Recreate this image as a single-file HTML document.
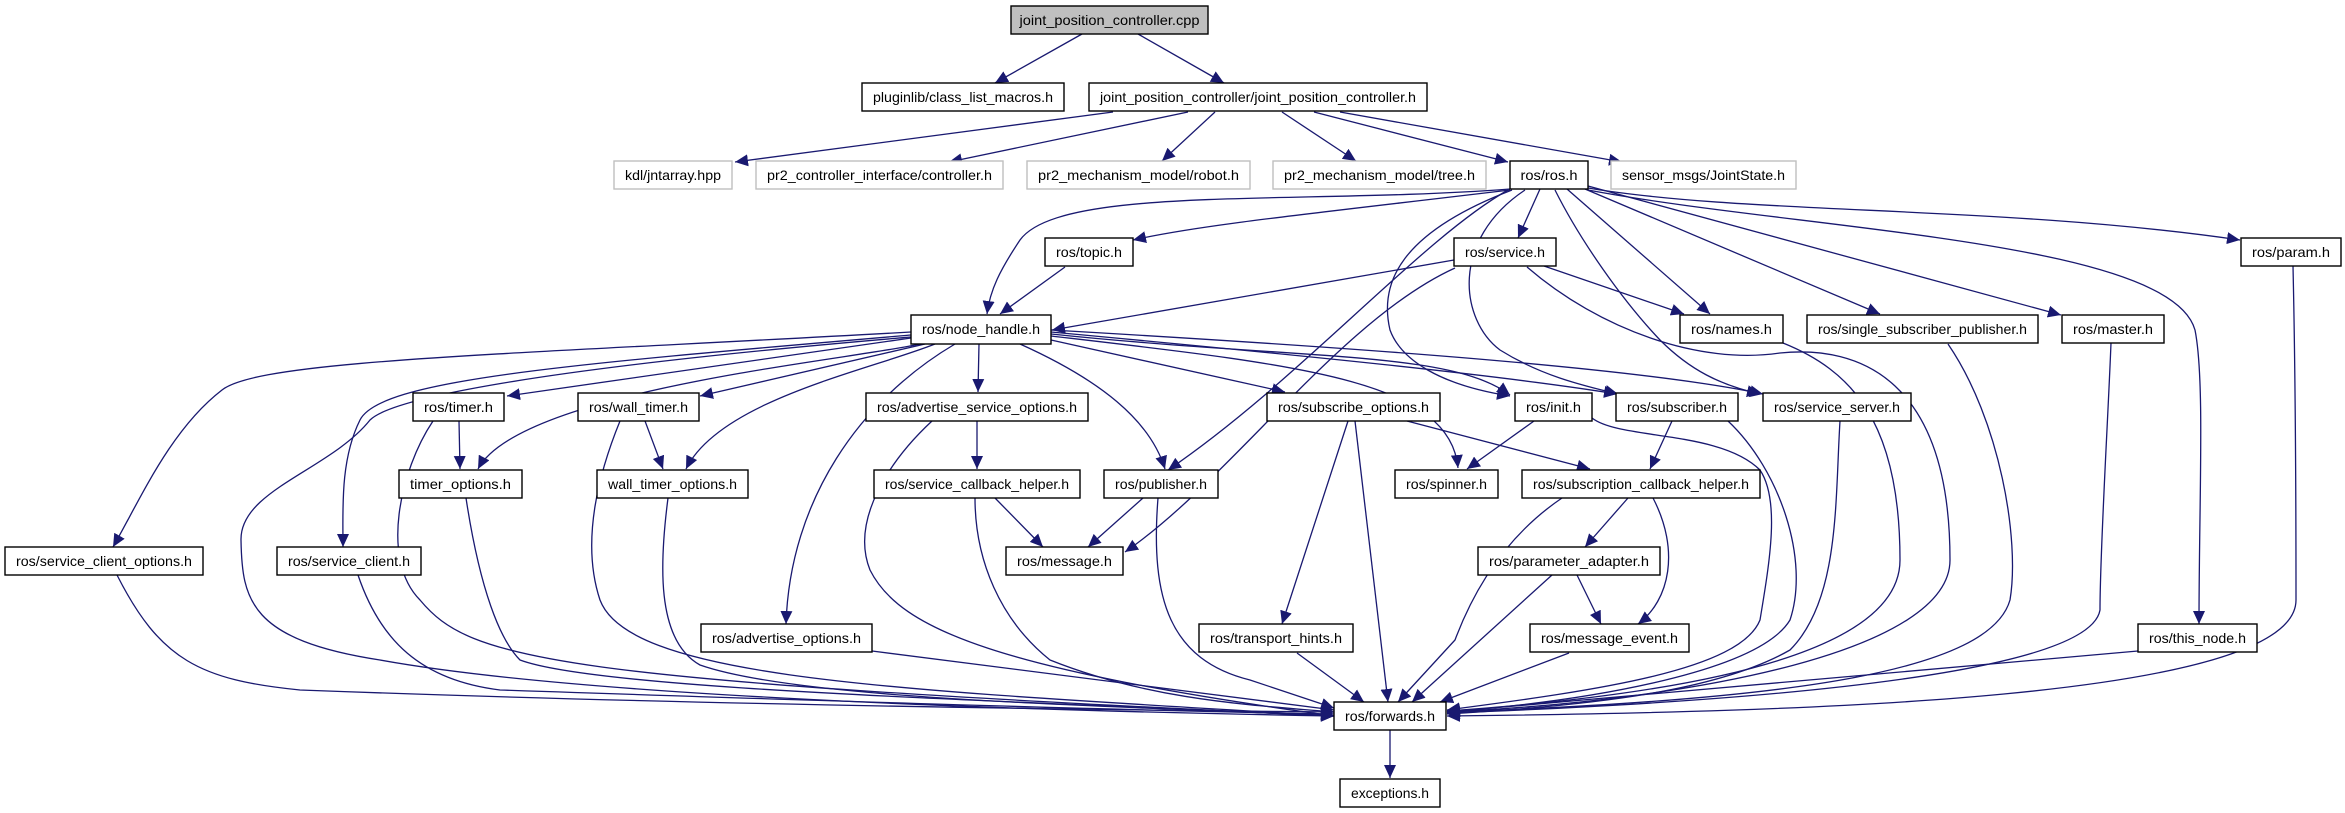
<!DOCTYPE html>
<html><head><meta charset="utf-8"><style>
html,body{margin:0;padding:0;background:#fff;}
svg{display:block;}
text{font-family:"Liberation Sans",sans-serif;font-size:14px;fill:#000;}
.e{fill:none;stroke:#191970;stroke-width:1.3;marker-end:url(#a);}
.b{fill:#fff;stroke:#000;stroke-width:1.4;}
.g{fill:#fff;stroke:#bfbfbf;stroke-width:1.4;}
</style></head><body>
<svg width="2345" height="813" viewBox="0 0 2345 813" xmlns="http://www.w3.org/2000/svg">
<defs><marker id="a" markerUnits="userSpaceOnUse" markerWidth="14" markerHeight="12" refX="13" refY="6" orient="auto"><path d="M0,0 L13,6 L0,12 z" fill="#191970"/></marker></defs>
<g>
<path class="e" d="M1082,34 L995,83"/>
<path class="e" d="M1138,34 L1224,83"/>
<path class="e" d="M1113,112 L735,162"/>
<path class="e" d="M1188,112 L949,162"/>
<path class="e" d="M1215,112 L1162,161"/>
<path class="e" d="M1282,112 L1356,161"/>
<path class="e" d="M1314,112 L1508,162"/>
<path class="e" d="M1340,112 L1622,162"/>
<path class="e" d="M1510,189 C1300,205 1060,185 1020,240 C1000,270 990,290 987,314"/>
<path class="e" d="M1510,190 C1300,215 1200,225 1133,240"/>
<path class="e" d="M1540,189 L1518,238"/>
<path class="e" d="M1567,189 L1710,314"/>
<path class="e" d="M1585,189 L1880,314"/>
<path class="e" d="M1588,186 L2061,315"/>
<path class="e" d="M1588,188 C1750,215 2000,205 2240,240"/>
<path class="e" d="M1588,190 C1800,230 2170,240 2195,330 C2205,380 2199,500 2199,624"/>
<path class="e" d="M1508,190 C1420,240 1300,380 1168,470"/>
<path class="e" d="M1512,190 C1400,233 1379,283 1390,330 C1401,360 1440,385 1510,396"/>
<path class="e" d="M1525,190 C1450,240 1460,320 1500,350 C1540,375 1580,385 1618,394"/>
<path class="e" d="M1555,190 C1580,240 1622,300 1660,340 C1690,370 1720,385 1760,394"/>
<path class="e" d="M1454,260 L1052,330"/>
<path class="e" d="M1544,266 L1684,314"/>
<path class="e" d="M1455,268 C1340,320 1230,480 1125,552"/>
<path class="e" d="M1527,267 C1600,330 1700,365 1780,353 C1860,345 1950,380 1950,560 C1950,650 1700,700 1447,712"/>
<path class="e" d="M1065,267 L1000,314"/>
<path class="e" d="M911,338 L507,396"/>
<path class="e" d="M925,344 L700,396"/>
<path class="e" d="M979,344 L978,392"/>
<path class="e" d="M1020,344 C1100,380 1150,420 1165,469"/>
<path class="e" d="M1051,340 L1285,392"/>
<path class="e" d="M1051,334 C1300,360 1450,350 1510,395"/>
<path class="e" d="M1051,332 C1300,355 1500,375 1617,394"/>
<path class="e" d="M1051,330 C1400,350 1650,370 1763,394"/>
<path class="e" d="M1051,336 C1300,365 1450,380 1458,468"/>
<path class="e" d="M920,344 C850,360 520,390 478,469"/>
<path class="e" d="M935,344 C870,370 720,400 686,469"/>
<path class="e" d="M911,332 C500,355 260,360 222,390 C170,430 140,500 113,547"/>
<path class="e" d="M911,335 C560,365 380,380 360,420 C340,460 343,510 343,547"/>
<path class="e" d="M955,344 C860,400 790,500 786,624"/>
<path class="e" d="M911,337 C520,370 390,400 370,420 C330,470 240,490 241,540 C242,600 250,640 380,660 C600,700 1100,712 1334,716"/>
<path class="e" d="M459,421 L460,469"/>
<path class="e" d="M433,421 C400,470 380,560 420,600 C470,660 550,680 1334,716"/>
<path class="e" d="M645,421 L663,469"/>
<path class="e" d="M620,421 C600,470 580,540 600,600 C630,680 900,690 1334,716"/>
<path class="e" d="M466,498 C480,590 500,640 520,660 C600,690 1000,700 1334,716"/>
<path class="e" d="M668,498 C660,560 655,640 700,665 C800,700 1100,705 1334,716"/>
<path class="e" d="M977,421 L977,469"/>
<path class="e" d="M932,421 C890,460 850,520 870,570 C900,630 1000,670 1334,716"/>
<path class="e" d="M995,498 L1043,547"/>
<path class="e" d="M975,498 C975,560 1000,620 1050,660 C1150,700 1250,705 1334,712"/>
<path class="e" d="M1143,498 L1088,547"/>
<path class="e" d="M1158,498 C1150,600 1170,660 1250,680 L1334,708"/>
<path class="e" d="M1348,421 L1282,624"/>
<path class="e" d="M1355,421 L1388,702"/>
<path class="e" d="M1407,421 L1590,469"/>
<path class="e" d="M1534,421 L1467,469"/>
<path class="e" d="M1592,418 C1620,440 1720,430 1760,470 C1780,500 1770,560 1760,620 C1740,670 1600,690 1447,710"/>
<path class="e" d="M1672,421 L1650,469"/>
<path class="e" d="M1728,421 C1780,470 1810,560 1790,620 C1760,670 1600,700 1447,712"/>
<path class="e" d="M1840,421 C1835,500 1840,600 1790,650 C1720,690 1600,705 1447,714"/>
<path class="e" d="M1562,498 C1500,540 1470,600 1455,640 L1398,702"/>
<path class="e" d="M1628,498 L1585,547"/>
<path class="e" d="M1653,498 C1680,550 1670,600 1638,624"/>
<path class="e" d="M1577,575 L1601,624"/>
<path class="e" d="M1552,575 L1412,702"/>
<path class="e" d="M1569,653 L1440,702"/>
<path class="e" d="M1297,653 L1364,702"/>
<path class="e" d="M872,651 L1334,710"/>
<path class="e" d="M117,575 C160,660 200,680 300,690 C700,705 1100,710 1334,712"/>
<path class="e" d="M358,575 C380,640 420,680 500,690 C800,700 1100,710 1334,714"/>
<path class="e" d="M2138,651 L1447,712"/>
<path class="e" d="M2293,266 C2296,400 2296,520 2296,600 C2296,700 1800,712 1447,716"/>
<path class="e" d="M2111,343 C2108,420 2100,550 2100,610 C2090,670 1800,700 1447,713"/>
<path class="e" d="M1948,344 C2000,420 2020,540 2010,600 C1990,670 1800,700 1447,712"/>
<path class="e" d="M1783,343 C1850,370 1900,420 1900,560 C1900,640 1750,690 1447,711"/>
<path class="e" d="M1390,730 L1390,778"/>
</g>
<g>
<rect x="1011" y="6" width="197" height="28" fill="#bfbfbf" stroke="#000" stroke-width="1.4"/><text x="1109.5" y="25" text-anchor="middle" textLength="180" lengthAdjust="spacingAndGlyphs">joint_position_controller.cpp</text>
<rect class="b" x="862" y="83" width="202" height="28"/><text x="963" y="102" text-anchor="middle" textLength="180" lengthAdjust="spacingAndGlyphs">pluginlib/class_list_macros.h</text>
<rect class="b" x="1089" y="83" width="338" height="28"/><text x="1258" y="102" text-anchor="middle" textLength="316" lengthAdjust="spacingAndGlyphs">joint_position_controller/joint_position_controller.h</text>
<rect class="g" x="614" y="161" width="118" height="28"/><text x="673" y="180" text-anchor="middle" textLength="96" lengthAdjust="spacingAndGlyphs">kdl/jntarray.hpp</text>
<rect class="g" x="756" y="161" width="247" height="28"/><text x="879.5" y="180" text-anchor="middle" textLength="225" lengthAdjust="spacingAndGlyphs">pr2_controller_interface/controller.h</text>
<rect class="g" x="1027" y="161" width="223" height="28"/><text x="1138.5" y="180" text-anchor="middle" textLength="201" lengthAdjust="spacingAndGlyphs">pr2_mechanism_model/robot.h</text>
<rect class="g" x="1273" y="161" width="213" height="28"/><text x="1379.5" y="180" text-anchor="middle" textLength="191" lengthAdjust="spacingAndGlyphs">pr2_mechanism_model/tree.h</text>
<rect class="b" x="1510" y="161" width="78" height="28"/><text x="1549" y="180" text-anchor="middle" textLength="57" lengthAdjust="spacingAndGlyphs">ros/ros.h</text>
<rect class="g" x="1611" y="161" width="185" height="28"/><text x="1703.5" y="180" text-anchor="middle" textLength="163" lengthAdjust="spacingAndGlyphs">sensor_msgs/JointState.h</text>
<rect class="b" x="1045" y="238" width="88" height="28"/><text x="1089" y="257" text-anchor="middle" textLength="66" lengthAdjust="spacingAndGlyphs">ros/topic.h</text>
<rect class="b" x="1454" y="238" width="102" height="28"/><text x="1505" y="257" text-anchor="middle" textLength="80" lengthAdjust="spacingAndGlyphs">ros/service.h</text>
<rect class="b" x="2241" y="238" width="100" height="28"/><text x="2291" y="257" text-anchor="middle" textLength="78" lengthAdjust="spacingAndGlyphs">ros/param.h</text>
<rect class="b" x="911" y="315" width="140" height="29"/><text x="981" y="334" text-anchor="middle" textLength="118" lengthAdjust="spacingAndGlyphs">ros/node_handle.h</text>
<rect class="b" x="1680" y="315" width="103" height="28"/><text x="1731.5" y="334" text-anchor="middle" textLength="81" lengthAdjust="spacingAndGlyphs">ros/names.h</text>
<rect class="b" x="1807" y="315" width="231" height="28"/><text x="1922.5" y="334" text-anchor="middle" textLength="209" lengthAdjust="spacingAndGlyphs">ros/single_subscriber_publisher.h</text>
<rect class="b" x="2062" y="315" width="102" height="28"/><text x="2113" y="334" text-anchor="middle" textLength="80" lengthAdjust="spacingAndGlyphs">ros/master.h</text>
<rect class="b" x="413" y="393" width="91" height="28"/><text x="458.5" y="412" text-anchor="middle" textLength="69" lengthAdjust="spacingAndGlyphs">ros/timer.h</text>
<rect class="b" x="578" y="393" width="121" height="28"/><text x="638.5" y="412" text-anchor="middle" textLength="99" lengthAdjust="spacingAndGlyphs">ros/wall_timer.h</text>
<rect class="b" x="866" y="393" width="222" height="28"/><text x="977" y="412" text-anchor="middle" textLength="200" lengthAdjust="spacingAndGlyphs">ros/advertise_service_options.h</text>
<rect class="b" x="1267" y="393" width="173" height="28"/><text x="1353.5" y="412" text-anchor="middle" textLength="151" lengthAdjust="spacingAndGlyphs">ros/subscribe_options.h</text>
<rect class="b" x="1515" y="393" width="77" height="28"/><text x="1553.5" y="412" text-anchor="middle" textLength="55" lengthAdjust="spacingAndGlyphs">ros/init.h</text>
<rect class="b" x="1616" y="393" width="122" height="28"/><text x="1677" y="412" text-anchor="middle" textLength="100" lengthAdjust="spacingAndGlyphs">ros/subscriber.h</text>
<rect class="b" x="1763" y="393" width="148" height="28"/><text x="1837" y="412" text-anchor="middle" textLength="126" lengthAdjust="spacingAndGlyphs">ros/service_server.h</text>
<rect class="b" x="399" y="470" width="123" height="28"/><text x="460.5" y="489" text-anchor="middle" textLength="101" lengthAdjust="spacingAndGlyphs">timer_options.h</text>
<rect class="b" x="597" y="470" width="151" height="28"/><text x="672.5" y="489" text-anchor="middle" textLength="129" lengthAdjust="spacingAndGlyphs">wall_timer_options.h</text>
<rect class="b" x="874" y="470" width="206" height="28"/><text x="977" y="489" text-anchor="middle" textLength="184" lengthAdjust="spacingAndGlyphs">ros/service_callback_helper.h</text>
<rect class="b" x="1104" y="470" width="114" height="28"/><text x="1161" y="489" text-anchor="middle" textLength="92" lengthAdjust="spacingAndGlyphs">ros/publisher.h</text>
<rect class="b" x="1395" y="470" width="103" height="28"/><text x="1446.5" y="489" text-anchor="middle" textLength="81" lengthAdjust="spacingAndGlyphs">ros/spinner.h</text>
<rect class="b" x="1522" y="470" width="238" height="28"/><text x="1641" y="489" text-anchor="middle" textLength="216" lengthAdjust="spacingAndGlyphs">ros/subscription_callback_helper.h</text>
<rect class="b" x="5" y="547" width="198" height="28"/><text x="104" y="566" text-anchor="middle" textLength="176" lengthAdjust="spacingAndGlyphs">ros/service_client_options.h</text>
<rect class="b" x="277" y="547" width="144" height="28"/><text x="349" y="566" text-anchor="middle" textLength="122" lengthAdjust="spacingAndGlyphs">ros/service_client.h</text>
<rect class="b" x="1006" y="547" width="117" height="28"/><text x="1064.5" y="566" text-anchor="middle" textLength="95" lengthAdjust="spacingAndGlyphs">ros/message.h</text>
<rect class="b" x="1478" y="547" width="182" height="28"/><text x="1569" y="566" text-anchor="middle" textLength="160" lengthAdjust="spacingAndGlyphs">ros/parameter_adapter.h</text>
<rect class="b" x="701" y="624" width="171" height="28"/><text x="786.5" y="643" text-anchor="middle" textLength="149" lengthAdjust="spacingAndGlyphs">ros/advertise_options.h</text>
<rect class="b" x="1199" y="624" width="154" height="28"/><text x="1276" y="643" text-anchor="middle" textLength="132" lengthAdjust="spacingAndGlyphs">ros/transport_hints.h</text>
<rect class="b" x="1530" y="624" width="159" height="28"/><text x="1609.5" y="643" text-anchor="middle" textLength="137" lengthAdjust="spacingAndGlyphs">ros/message_event.h</text>
<rect class="b" x="2138" y="624" width="119" height="28"/><text x="2197.5" y="643" text-anchor="middle" textLength="97" lengthAdjust="spacingAndGlyphs">ros/this_node.h</text>
<rect class="b" x="1334" y="702" width="112" height="28"/><text x="1390" y="721" text-anchor="middle" textLength="90" lengthAdjust="spacingAndGlyphs">ros/forwards.h</text>
<rect class="b" x="1340" y="779" width="100" height="28"/><text x="1390" y="798" text-anchor="middle" textLength="78" lengthAdjust="spacingAndGlyphs">exceptions.h</text>
</g>
</svg>
</body></html>
